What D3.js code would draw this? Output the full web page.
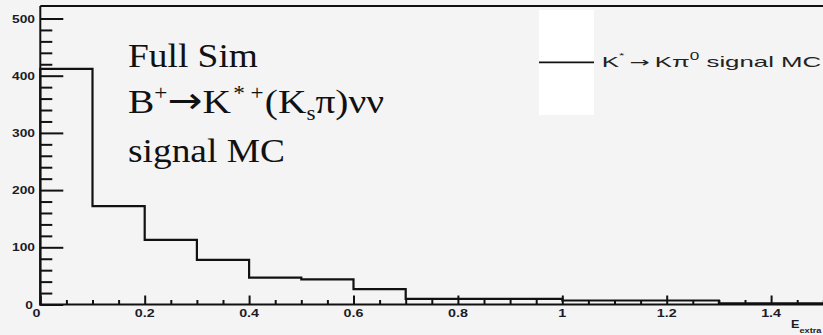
<!DOCTYPE html>
<html>
<head>
<meta charset="utf-8">
<script src="https://cdn.jsdelivr.net/npm/d3@7"></script>
<style>
  html, body { margin: 0; padding: 0; background: #f4f4f4; }
  svg { display: block; }
</style>
</head>
<body>
<svg id="chart" width="823" height="335"></svg>
<script>
// ---- data ----
const binEdges = [0, 0.1, 0.2, 0.3, 0.4, 0.5, 0.6, 0.7, 0.8, 0.9, 1.0, 1.1, 1.2, 1.3, 1.4, 1.5];
const binCounts = [412, 172, 113, 78, 47, 44, 27, 10, 10, 10, 7, 7, 7, 2, 2];
const xMajorTicks = [0, 0.2, 0.4, 0.6, 0.8, 1, 1.2, 1.4];
const xTickLabels = ["0", "0.2", "0.4", "0.6", "0.8", "1", "1.2", "1.4"];
const yMajorTicks = [0, 100, 200, 300, 400, 500];
const yTickLabels = ["0", "100", "200", "300", "400", "500"];

// ---- layout ----
const svg = d3.select("#chart");
const x = d3.scaleLinear().domain([0, 1.5]).range([40.3, 823.3]);
const y = d3.scaleLinear().domain([0, 500]).range([304.5, 18.5]);
const yTop = 6;

// histogram outline
const pts = [[binEdges[0], 0]].concat(binCounts.map((c, i) => [binEdges[i], c]));
pts.push([binEdges[binEdges.length - 1], binCounts[binCounts.length - 1]]);
const line = d3.line().x(d => x(d[0])).y(d => y(d[1])).curve(d3.curveStepAfter);
svg.append("path").attr("d", line(pts)).attr("fill", "none")
  .attr("stroke", "#111").attr("stroke-width", 2.2);

// frame: top line
svg.append("line").attr("x1", x(0)).attr("x2", 823).attr("y1", yTop).attr("y2", yTop)
  .attr("stroke", "#111").attr("stroke-width", 2);

// y axis: minor + major ticks
const yMinor = d3.range(0, 501, 20).filter(v => v % 100 !== 0);
const gyMinor = svg.append("g").attr("transform", `translate(${x(0)},0)`)
  .call(d3.axisLeft(y).tickValues(yMinor).tickSize(-12).tickFormat(""));
const gy = svg.append("g").attr("transform", `translate(${x(0)},0)`)
  .call(d3.axisLeft(y).tickValues(yMajorTicks).tickSize(-23).tickFormat(""));
[gyMinor, gy].forEach(g => {
  g.select(".domain").remove();
  g.selectAll("line").attr("stroke", "#111").attr("stroke-width", 2);
});
svg.append("line").attr("x1", x(0)).attr("x2", x(0)).attr("y1", yTop).attr("y2", y(0) + 1)
  .attr("stroke", "#111").attr("stroke-width", 2);

// y tick labels
yMajorTicks.forEach((v, i) => {
  svg.append("text")
    .attr("transform", `translate(${v === 0 ? 33 : 35},${y(v) + 4}) scale(1.25,1)`)
    .attr("text-anchor", "end")
    .attr("font-family", "Liberation Sans, Arial, sans-serif")
    .attr("font-weight", "bold").attr("font-size", 11).attr("fill", "#1c1c28")
    .text(yTickLabels[i]);
});

// x axis minor + major ticks
const xMinor = d3.range(0, 31).map(i => i * 0.05).filter(v => Math.abs(v / 0.2 - Math.round(v / 0.2)) > 1e-6);
const gxMinor = svg.append("g").attr("transform", `translate(0,${y(0)})`)
  .call(d3.axisBottom(x).tickValues(xMinor).tickSize(-4.5).tickFormat(""));
const gx = svg.append("g").attr("transform", `translate(0,${y(0)})`)
  .call(d3.axisBottom(x).tickValues(xMajorTicks).tickSize(-9).tickFormat(""));
[gxMinor, gx].forEach(g => {
  g.select(".domain").remove();
  g.selectAll("line").attr("stroke", "#111").attr("stroke-width", 2);
});
svg.append("line").attr("x1", x(0) - 1).attr("x2", 823).attr("y1", y(0)).attr("y2", y(0))
  .attr("stroke", "#111").attr("stroke-width", 2);

// x tick labels
xMajorTicks.forEach((v, i) => {
  svg.append("text")
    .attr("transform", `translate(${v === 0 ? 36.5 : x(v)},316.5) scale(1.3,1)`)
    .attr("text-anchor", "middle")
    .attr("font-family", "Liberation Sans, Arial, sans-serif")
    .attr("font-weight", "bold").attr("font-size", 11).attr("fill", "#1c1c28")
    .text(xTickLabels[i]);
});

// x axis title E_extra
const xt = svg.append("text")
  .attr("transform", "translate(791,328) scale(1.15,1)")
  .attr("font-family", "Liberation Sans, Arial, sans-serif")
  .attr("font-weight", "bold").attr("font-size", 11).attr("fill", "#1c1c28");
xt.append("tspan").text("E");
xt.append("tspan").attr("dy", 5).attr("font-size", 8).text("extra");

// legend
svg.append("rect").attr("x", 539).attr("y", 10).attr("width", 55).attr("height", 105).attr("fill", "#fff");
svg.append("line").attr("x1", 539).attr("x2", 594).attr("y1", 62.3).attr("y2", 62.3)
  .attr("stroke", "#111").attr("stroke-width", 1.8);
const lt = svg.append("text")
  .attr("transform", "translate(601.7,66.7) scale(1.72,1)")
  .attr("font-family", "Liberation Sans, Arial, sans-serif")
  .attr("font-size", 15).attr("fill", "#222");
lt.append("tspan").text("K");
lt.append("tspan").attr("dy", -9).attr("font-size", 8).text("*");
lt.append("tspan").attr("dy", 9).attr("dx", 3).attr("font-family", "DejaVu Sans").attr("font-size", 14).text("\u2192");
lt.append("tspan").attr("dx", 3).text("K\u03c0");
lt.append("tspan").attr("dy", -7).attr("font-size", 10).text("0");
lt.append("tspan").attr("dy", 7).text(" signal MC");

// annotation
const serif = "Liberation Serif, Times New Roman, serif";
const ann = svg.append("g").attr("font-family", serif).attr("fill", "#111").attr("font-size", 34);
ann.append("text").attr("transform", "translate(128,66.7) scale(1.1,1)").text("Full Sim");
const l2 = ann.append("text").attr("transform", "translate(128,113.3) scale(1.16,1)");
l2.append("tspan").text("B");
l2.append("tspan").attr("dy", -13).attr("font-size", 20).text("+");
l2.append("tspan").attr("dy", 13).attr("font-family", "DejaVu Sans").attr("font-size", 36).text("\u2192");
l2.append("tspan").text("K");
l2.append("tspan").attr("dy", -13).attr("font-size", 20).attr("dx", 2).text("* +");
l2.append("tspan").attr("dy", 13).attr("dx", 1).text("(K");
l2.append("tspan").attr("dy", 7).attr("font-size", 20).text("s");
l2.append("tspan").attr("dy", -7).text("\u03c0)\u03bd\u03bd");
ann.append("text").attr("transform", "translate(128,161.7) scale(1.1,1)").text("signal MC");
</script>
</body>
</html>
